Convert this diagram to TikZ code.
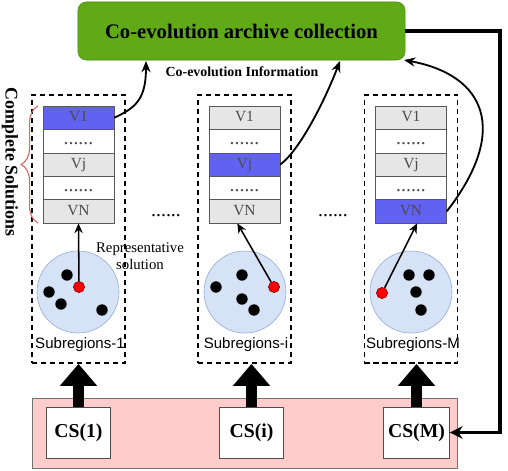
\documentclass[tikz,border=0pt]{standalone}
\usepackage{fontspec}
\setmainfont{Liberation Serif}
\setsansfont{Liberation Sans}
\usetikzlibrary{positioning,arrows.meta,decorations.pathreplacing}

\definecolor{archgreen}{HTML}{60A917}
\definecolor{archedge}{HTML}{4C8A12}
\definecolor{cellgray}{HTML}{E6E6E6}
\definecolor{cellblue}{HTML}{6262F2}
\definecolor{regionblue}{HTML}{D6E3F7}
\definecolor{regionedge}{HTML}{8FA9D6}
\definecolor{poolpink}{HTML}{FFCCCC}
\definecolor{braceredc}{HTML}{E06666}

\newcommand{\rowdots}{\fontsize{14}{14}\selectfont......}

\tikzset{
  archive/.style={draw=archedge, fill=archgreen, rounded corners=6pt, minimum width=8.175cm, minimum height=1.45cm, font=\bfseries\fontsize{14.7}{16}\selectfont},
  cell/.style={draw=black!65, minimum width=1.775cm, minimum height=0.585cm, inner sep=0pt, text height=6.5pt, text depth=1pt, text=black!70, font=\fontsize{11}{11}\selectfont},
  frame/.style={draw, line width=1.2pt, dash pattern=on 3.6pt off 2.8pt, minimum width=2.325cm, minimum height=6.7cm},
  region/.style={circle, draw=regionedge, fill=regionblue, minimum size=2.05cm, inner sep=0pt},
  repdot/.style={circle, draw=red!50!black, fill=red, minimum size=0.28cm, inner sep=0pt},
  csbox/.style={draw=black!70, fill=white, minimum width=1.6cm, minimum height=1.275cm, font=\bfseries\fontsize{14}{16}\selectfont},
  info/.style={line width=1.3pt, -{Stealth[length=8pt,width=6.5pt]}},
  repline/.style={line width=1.1pt, -{Stealth[length=7pt,width=6pt]}},
  blockarrow/.style={line width=7.8pt, -{Triangle[length=15.6pt,width=25.5pt]}},
}

\begin{document}
\begin{tikzpicture}[x=0.025cm, y=-0.025cm]
\useasboundingbox (0,0) rectangle (508,470);

    % Archive on top
    \node[archive] (arch) at (241.5,31) {Co-evolution archive collection};
    \node[font=\bfseries\fontsize{9.9}{11}\selectfont] (info) at (242,72) {Co-evolution Information};

    % Dashed frames of the subregions
    \node[frame] (box1) at (78.5,229) {};
    \node[frame] (box2) at (244.5,229) {};
    \node[frame] (box3) at (411,229) {};

    % Stacks of variables (one blue cell per stack)
    \foreach \c/\x/\hl in {1/78.5/1, 2/244.5/3, 3/411/5} {
        \foreach \r/\t in {1/V1, 2/\rowdots, 3/Vj, 4/\rowdots, 5/VN} {
            \pgfmathsetmacro\cy{106+23.4*(\r-0.5)}
            \ifnum\r=\hl \def\cfill{cellblue}\else\ifodd\r \def\cfill{cellgray}\else\def\cfill{white}\fi\fi
            \node[cell, fill=\cfill] (v\c\r) at (\x,\cy) {\t};
        }
    }
    \node[text height=6.5pt, text depth=1pt] (gap1) at (166,213) {\rowdots};
    \node[text height=6.5pt, text depth=1pt] (gap2) at (333,213) {\rowdots};

    % Brace and side label
    \draw[braceredc, line width=0.8pt, decorate, decoration={brace, amplitude=12pt}] (38,223) -- (38,106);
    \node[rotate=-90, font=\bfseries\fontsize{12.7}{14}\selectfont] (complete) at (10,162) {Complete Solutions};

    % Subregions with their solutions
    \node[region] (reg1) at (78,292) {};
    \node[region] (reg2) at (245,292) {};
    \node[region] (reg3) at (411,292) {};

    \fill (67,275) circle (5.7) (49,292) circle (5.7) (61,304) circle (5.7) (102,310) circle (5.7);
    \fill (216,287) circle (5.7) (242,275) circle (5.7) (242,299) circle (5.7) (254,310) circle (5.7);
    \fill (409,275) circle (5.7) (429,275) circle (5.7) (416,292) circle (5.7) (421,310) circle (5.7);

    \node[repdot] (rs1) at (79,287) {};
    \node[repdot] (rs2) at (274,287) {};
    \node[repdot] (rs3) at (382,293) {};

    \node[font=\sffamily\fontsize{10.7}{12}\selectfont] (lab1) at (80,345) {Subregions-1};
    \node[font=\sffamily\fontsize{10.7}{12}\selectfont] (lab2) at (246,345) {Subregions-i};
    \node[font=\sffamily\fontsize{10.7}{12}\selectfont] (lab3) at (413,345) {Subregions-M};

    \node[align=center, font=\fontsize{10.5}{12}\selectfont] (reptext) at (140,256) {Representative\\solution};

    % Representative solution up to the stack
    \draw[repline] (rs1) -- (v15.south);
    \draw[repline] (rs2) -- (v25.-121);
    \draw[repline] (rs3) -- (v35.-63);

    % Co-evolution information to the archive
    \coordinate (in1) at (146,61);
    \coordinate (in2) at (340,61);
    \coordinate (in3) at (404,60);
    \draw[info] (v11.east) .. controls (135,108) and (146,100) .. (in1);
    \draw[info] (v23.east) .. controls (300,150) and (325,100) .. (in2);
    \draw[info] (v35.east) .. controls (510,130) and (485,75) .. (in3);

    % Pool of context solutions
    \node[draw=black!55, fill=poolpink, minimum width=10.625cm, minimum height=1.75cm] (pool) at (244.5,433) {};
    \node[csbox] (cs1) at (78.5,432.5) {CS(1)};
    \node[csbox] (cs2) at (251.5,432.5) {CS(i)};
    \node[csbox] (cs3) at (416.5,432.5) {CS(M)};

    % Thick arrows up to the frames
    \draw[blockarrow] (cs1.north) -- (cs1.north |- box1.south);
    \draw[blockarrow] (cs2.north) -- (cs2.north |- box2.south);
    \draw[blockarrow] (cs3.north) -- (cs3.north |- box3.south);

    % Feedback from the archive
    \coordinate (fb) at (500,31);
    \draw[line width=2.2pt, -{Stealth[length=9pt,width=9pt]}] (arch.east) -- (fb) |- (cs3.east);

\end{tikzpicture}
\end{document}
